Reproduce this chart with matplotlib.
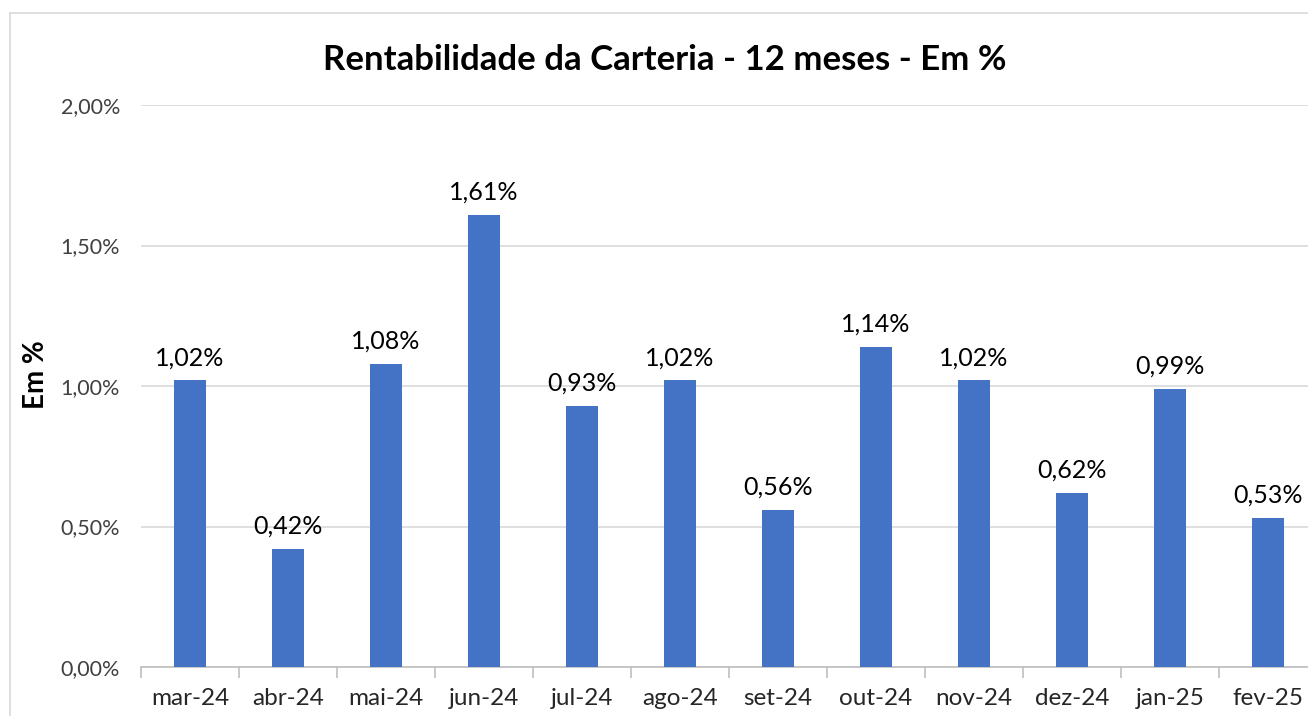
import matplotlib
matplotlib.use("Agg")
import matplotlib.pyplot as plt
from matplotlib.ticker import FuncFormatter, MultipleLocator
import numpy as np

plt.rcParams['font.family'] = ['Lato', 'DejaVu Sans']

# data
months = ['mar-24', 'abr-24', 'mai-24', 'jun-24', 'jul-24', 'ago-24',
          'set-24', 'out-24', 'nov-24', 'dez-24', 'jan-25', 'fev-25']
returns = [1.02, 0.42, 1.08, 1.61, 0.93, 1.02, 0.56, 1.14, 1.02, 0.62, 0.99, 0.53]

title = 'Rentabilidade da Carteria - 12 meses - Em %'
ylabel = 'Em %'


def pt_br(v, decimals=2):
    return f'{v:.{decimals}f}'.replace('.', ',') + '%'


fig = plt.figure(figsize=(13.08, 7.16), dpi=100)
ax = fig.add_axes([141 / 1308, 49 / 716, 1176 / 1308, 562 / 716])

x = np.arange(len(months))
bars = ax.bar(x, returns, width=0.32, color='#4472C4', zorder=3)

for b, v in zip(bars, returns):
    ax.annotate(pt_br(v), (b.get_x() + b.get_width() / 2, v),
                xytext=(0, 8), textcoords='offset points',
                ha='center', va='bottom', fontsize=18, color='#000000')

ax.set_xlim(-0.5, len(months) - 0.5)
ax.set_ylim(0, 2.0)
ax.yaxis.set_major_locator(MultipleLocator(0.5))
ax.yaxis.set_major_formatter(FuncFormatter(lambda v, p: pt_br(v)))
ax.grid(axis='y', color='#D9D9D9', linewidth=1.2, zorder=0)

ax.set_xticks(x)
ax.set_xticklabels(months)
ax.set_xticks(np.arange(-0.5, len(months), 1), minor=True)
ax.tick_params(axis='x', which='major', length=0, pad=15, labelsize=17.5, labelcolor='#262626')
ax.tick_params(axis='x', which='minor', length=8, color='#BFBFBF', width=1.2)
ax.tick_params(axis='y', length=0, pad=15, labelsize=15.5, labelcolor='#404040')

for side in ['top', 'right', 'left']:
    ax.spines[side].set_visible(False)
ax.spines['bottom'].set_color('#BFBFBF')
ax.spines['bottom'].set_linewidth(1.2)

fig.text(36 / 1308, 1 - 375 / 716, ylabel, rotation=90, ha='center', va='center',
         fontsize=20, fontweight='bold')
fig.text(665 / 1308, 1 - 60 / 716, title, ha='center', va='center',
         fontsize=25, fontweight='bold')

# outer chart border (top and left visible in the crop)
fig.add_artist(plt.Line2D([10 / 1308, 10 / 1308], [0, 1 - 13 / 716],
                          transform=fig.transFigure, color='#D9D9D9', linewidth=1.2))
fig.add_artist(plt.Line2D([10 / 1308, 1], [1 - 13 / 716, 1 - 13 / 716],
                          transform=fig.transFigure, color='#D9D9D9', linewidth=1.2))

fig.savefig('out.png', dpi=100)
